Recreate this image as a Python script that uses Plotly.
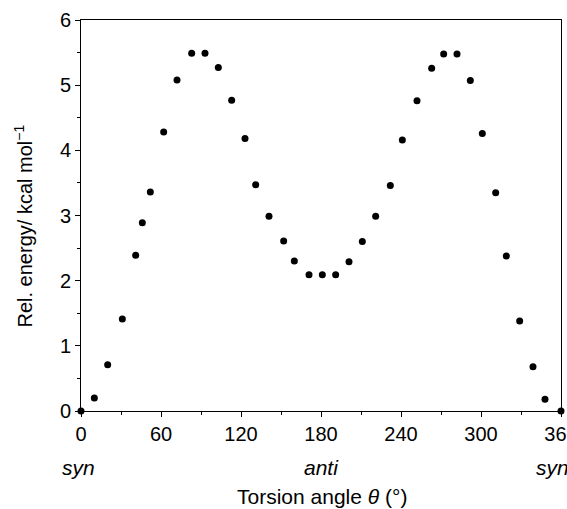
import plotly.graph_objects as go

# Data
angles = [0, 10, 20, 31, 41, 46, 52, 62, 72, 83, 93, 103, 113, 123, 131, 141, 152, 160,
          171, 181, 191, 201, 211, 221, 232, 241, 252, 263, 272, 282, 292, 301, 311, 319,
          329, 339, 348, 360]
energies = [0, 0.20, 0.71, 1.41, 2.39, 2.89, 3.36, 4.28, 5.08, 5.49, 5.49, 5.27, 4.77, 4.18,
            3.47, 2.99, 2.61, 2.30, 2.09, 2.09, 2.09, 2.29, 2.60, 2.99, 3.46, 4.16, 4.76,
            5.26, 5.48, 5.48, 5.07, 4.26, 3.35, 2.38, 1.38, 0.68, 0.18, 0]
x_ticks = [0, 60, 120, 180, 240, 300, 360]
y_ticks = [0, 1, 2, 3, 4, 5, 6]
conf_labels = ["syn", "anti", "syn"]
conf_angles = [0, 180, 360]
x_title = "Torsion angle <i>θ</i> (°)"
y_title = "Rel. energy/ kcal mol<sup>−1</sup>"

FONT = "Liberation Sans, Arial, Helvetica, sans-serif"
label_xshift = {0: -3, 180: 0, 360: -9}

fig = go.Figure()
fig.add_trace(go.Scatter(
    x=angles, y=energies, mode="markers",
    marker=dict(color="black", size=7),
    cliponaxis=False, showlegend=False,
))

for lab, ang in zip(conf_labels, conf_angles):
    fig.add_annotation(x=ang, y=0, xref="x", yref="y", text=f"<i>{lab}</i>",
                       showarrow=False, yanchor="middle", yshift=-56,
                       xshift=label_xshift.get(ang, 0),
                       font=dict(size=21, color="black", family=FONT))

# Axis titles placed as annotations
fig.add_annotation(x=0.5, xref="paper", y=0, yref="y", text=x_title, showarrow=False,
                   yanchor="middle", xshift=1, yshift=-85,
                   font=dict(size=21, color="black", family=FONT))
fig.add_annotation(x=0, xref="paper", y=0.5, yref="paper", text=y_title, showarrow=False,
                   textangle=-90, xanchor="center", yanchor="middle", xshift=-58, yshift=-11,
                   font=dict(size=20, color="black", family=FONT))

fig.update_layout(
    width=567, height=509,
    margin=dict(l=81, r=6, t=20, b=98, autoexpand=False),
    paper_bgcolor="white", plot_bgcolor="white",
    font=dict(family=FONT, size=20, color="black"),
    xaxis=dict(
        range=[0, 360], tickvals=x_ticks, ticks="outside", ticklen=5, tickwidth=1,
        tickcolor="black", showline=True, mirror=True, linecolor="black", linewidth=1,
        showgrid=False, zeroline=False, automargin=False, ticklabeloverflow="allow",
        minor=dict(dtick=30, tick0=0, ticks="outside", ticklen=3, tickcolor="black", showgrid=False),
        tickfont=dict(size=20),
    ),
    yaxis=dict(
        range=[0, 6], tickvals=y_ticks, ticks="outside", ticklen=5, tickwidth=1,
        tickcolor="black", showline=True, mirror=True, linecolor="black", linewidth=1,
        showgrid=False, zeroline=False, automargin=False, ticklabeloverflow="allow",
        minor=dict(dtick=0.5, tick0=0, ticks="outside", ticklen=3, tickcolor="black", showgrid=False),
        tickfont=dict(size=20),
    ),
)

fig.write_html("out.html", config={"displayModeBar": False},
               post_script="document.body.style.margin='0';")
